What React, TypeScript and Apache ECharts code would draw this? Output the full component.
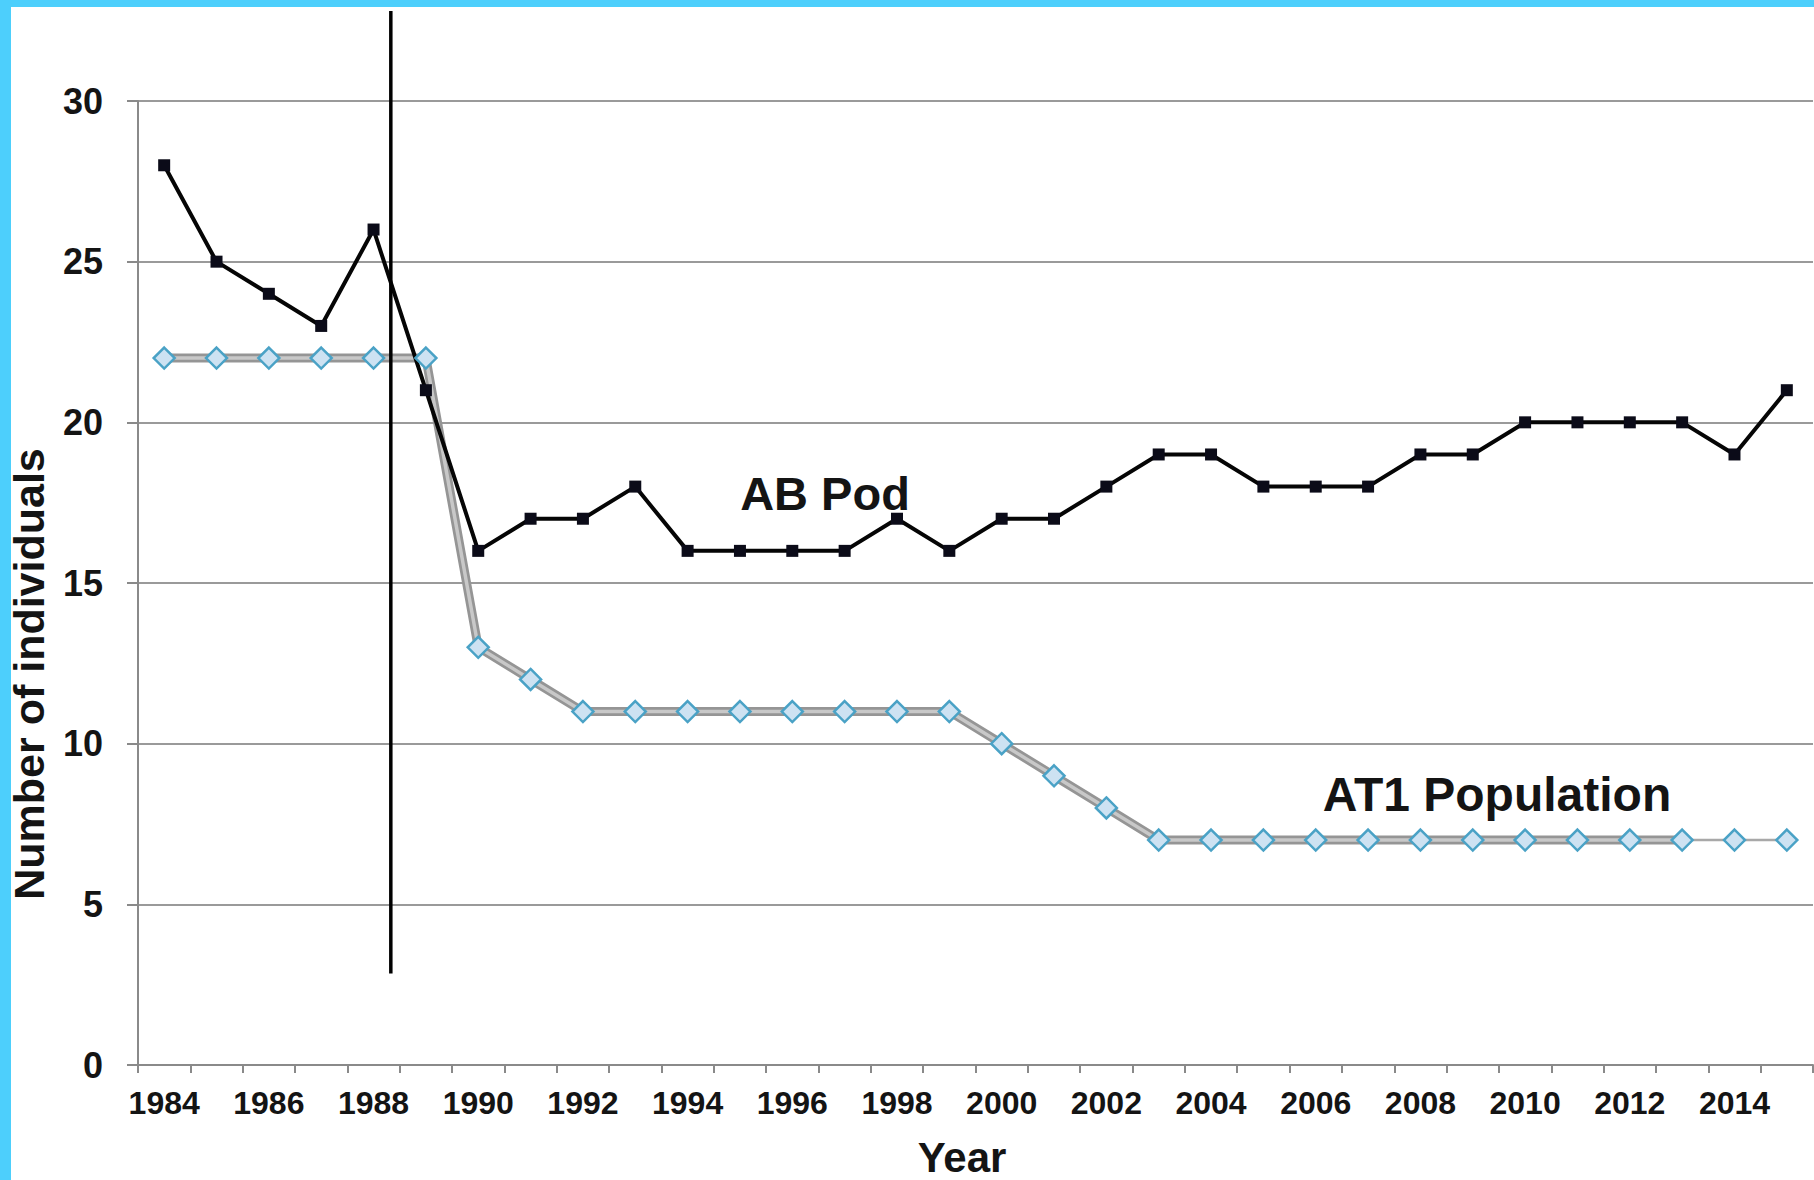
import React, { useEffect, useRef } from "react";
import * as echarts from "echarts";

const years = [
  "1984", "1985", "1986", "1987", "1988", "1989", "1990", "1991",
  "1992", "1993", "1994", "1995", "1996", "1997", "1998", "1999",
  "2000", "2001", "2002", "2003", "2004", "2005", "2006", "2007",
  "2008", "2009", "2010", "2011", "2012", "2013", "2014", "2015",
];

const abPod = [
  28, 25, 24, 23, 26, 21, 16, 17,
  17, 18, 16, 16, 16, 16, 17, 16,
  17, 17, 18, 19, 19, 18, 18, 18,
  19, 19, 20, 20, 20, 20, 19, 21,
];

const at1Population = [
  22, 22, 22, 22, 22, 22, 13, 12,
  11, 11, 11, 11, 11, 11, 11, 11,
  10, 9, 8, 7, 7, 7, 7, 7,
  7, 7, 7, 7, 7, 7, 7, 7,
];

// the AT1 line is drawn thin from this year onward
const thinFromYear = "2013";

// Exxon Valdez spill marker (fractional year position) and its vertical extent
const spillX = 1988.33;
const spillYRange = [2.85, 32.8];

const yTicks = { min: 0, max: 30, interval: 5 };

const FONT = '"Liberation Sans", Arial, Helvetica, sans-serif';

export default function App() {
  const ref = useRef<HTMLDivElement>(null);

  useEffect(() => {
    document.body.style.margin = "0";
    document.body.style.overflow = "hidden";
    if (!ref.current) return;
    const chart = echarts.init(ref.current, undefined, { renderer: "svg" });

    const thinIdx = years.indexOf(thinFromYear);
    const thickData = at1Population.map((v, i) => (i <= thinIdx ? v : null));
    const thinData = at1Population.map((v, i) => (i >= thinIdx ? v : null));

    chart.setOption({
      animation: false,
      backgroundColor: "#ffffff",
      grid: { left: 138, top: 101, width: 1675, height: 964, containLabel: false },
      xAxis: [
        {
          type: "category",
          data: years,
          boundaryGap: true,
          axisLine: { show: true, lineStyle: { color: "#8a8a8a", width: 2 } },
          axisTick: { show: true, interval: 0, length: 8, lineStyle: { color: "#8a8a8a", width: 2 } },
          axisLabel: {
            interval: 1,
            margin: 22,
            color: "#141414",
            fontSize: 32,
            fontWeight: "bold",
            fontFamily: FONT,
          },
          splitLine: { show: false },
        },
        {
          type: "value",
          min: 1983.5,
          max: 2015.5,
          show: false,
        },
      ],
      yAxis: {
        type: "value",
        min: yTicks.min,
        max: yTicks.max,
        interval: yTicks.interval,
        axisLine: { show: true, lineStyle: { color: "#8a8a8a", width: 2 } },
        axisTick: { show: true, length: 11, lineStyle: { color: "#8a8a8a", width: 2 } },
        axisLabel: {
          margin: 35,
          color: "#141414",
          fontSize: 36,
          fontWeight: "bold",
          fontFamily: FONT,
        },
        splitLine: { show: true, lineStyle: { color: "#9a9a9a", width: 2 } },
      },
      series: [
        {
          name: "AT1 band",
          type: "line",
          data: thickData,
          symbol: "none",
          lineStyle: { color: "#959595", width: 9 },
          silent: true,
        },
        {
          name: "AT1 band inner",
          type: "line",
          data: thickData,
          symbol: "none",
          lineStyle: { color: "#c8c8c8", width: 3.5 },
          silent: true,
        },
        {
          name: "AT1 thin",
          type: "line",
          data: thinData,
          symbol: "none",
          lineStyle: { color: "#a8a8a8", width: 2.5 },
          silent: true,
        },
        {
          name: "AT1 Population",
          type: "line",
          data: at1Population,
          symbol: "diamond",
          symbolSize: 21,
          showSymbol: true,
          lineStyle: { width: 0, opacity: 0 },
          itemStyle: { color: "#cde2f2", borderColor: "#4aa2c6", borderWidth: 2.5 },
        },
        {
          name: "AB Pod",
          type: "line",
          data: abPod,
          symbol: "rect",
          symbolSize: 12,
          showSymbol: true,
          lineStyle: { color: "#050505", width: 4 },
          itemStyle: { color: "#0b0b18", borderColor: "#0b0b18", borderWidth: 0 },
        },
        {
          name: "Spill",
          type: "line",
          xAxisIndex: 1,
          yAxisIndex: 0,
          data: [
            [spillX, spillYRange[0]],
            [spillX, spillYRange[1]],
          ],
          symbol: "none",
          clip: false,
          lineStyle: { color: "#000000", width: 3.5 },
          silent: true,
        },
      ],
      graphic: [
        {
          type: "text",
          x: 29,
          y: 674,
          rotation: Math.PI / 2,
          style: {
            text: "Number of individuals",
            fontSize: 43,
            fontWeight: "bold",
            fontFamily: FONT,
            fill: "#141414",
            align: "center",
            verticalAlign: "middle",
          },
        },
        {
          type: "text",
          x: 962,
          y: 1157,
          style: {
            text: "Year",
            fontSize: 42,
            fontWeight: "bold",
            fontFamily: FONT,
            fill: "#141414",
            align: "center",
            verticalAlign: "middle",
          },
        },
        {
          type: "text",
          x: 825,
          y: 493,
          style: {
            text: "AB Pod",
            fontSize: 47,
            fontWeight: "bold",
            fontFamily: FONT,
            fill: "#141414",
            align: "center",
            verticalAlign: "middle",
          },
        },
        {
          type: "text",
          x: 1497,
          y: 794,
          style: {
            text: "AT1 Population",
            fontSize: 48,
            fontWeight: "bold",
            fontFamily: FONT,
            fill: "#141414",
            align: "center",
            verticalAlign: "middle",
          },
        },
      ],
    });

    return () => chart.dispose();
  }, []);

  return (
    <div style={{ position: "relative", width: 1814, height: 1180, background: "#ffffff", overflow: "hidden" }}>
      <div ref={ref} style={{ position: "absolute", left: 0, top: 0, width: 1814, height: 1180 }} />
      <div style={{ position: "absolute", left: 0, top: 0, width: 1814, height: 7, background: "#4dcffc" }} />
      <div style={{ position: "absolute", left: 0, top: 0, width: 11, height: 1180, background: "#4dcffc" }} />
    </div>
  );
}
